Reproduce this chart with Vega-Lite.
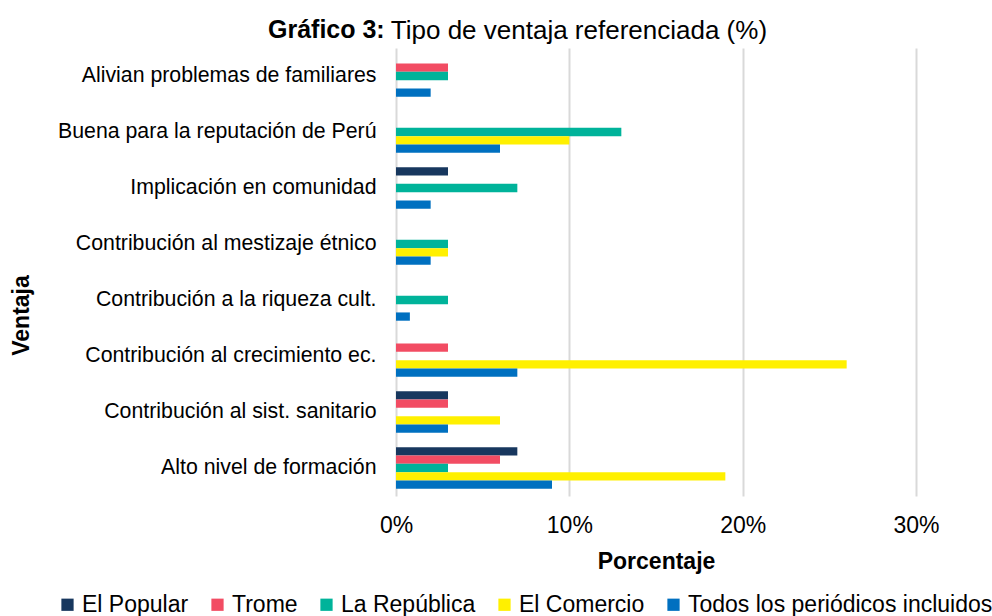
{
  "$schema": "https://vega.github.io/schema/vega-lite/v6.json",
  "width": 520,
  "height": 448,
  "autosize": {"type": "none"},
  "padding": {"left": 396, "top": 48, "right": 76, "bottom": 120},
  "background": "white",
  "title": {
    "text": "Gráfico 3:",
    "subtitle": "\u200d\u00a0\u00a0\u00a0\u00a0\u00a0\u00a0\u00a0\u00a0\u00a0\u00a0\u00a0\u00a0\u00a0\u00a0\u00a0\u00a0\u00a0Tipo de ventaja referenciada (%)",
    "anchor": "start",
    "frame": "group",
    "dx": -128,
    "offset": 4,
    "font": "Liberation Sans",
    "subtitleFont": "Liberation Sans",
    "fontSize": 25,
    "subtitleFontSize": 26,
    "fontWeight": "bold",
    "subtitleFontWeight": "normal",
    "color": "black",
    "subtitleColor": "black",
    "subtitlePadding": -25
  },
  "data": {
    "values": [
      {"ventaja": "Alivian problemas de familiares", "periodico": "Trome", "pct": 3},
      {"ventaja": "Alivian problemas de familiares", "periodico": "La República", "pct": 3},
      {"ventaja": "Alivian problemas de familiares", "periodico": "Todos los periódicos incluidos", "pct": 2},
      {"ventaja": "Buena para la reputación de Perú", "periodico": "La República", "pct": 13},
      {"ventaja": "Buena para la reputación de Perú", "periodico": "El Comercio", "pct": 10},
      {"ventaja": "Buena para la reputación de Perú", "periodico": "Todos los periódicos incluidos", "pct": 6},
      {"ventaja": "Implicación en comunidad", "periodico": "El Popular", "pct": 3},
      {"ventaja": "Implicación en comunidad", "periodico": "La República", "pct": 7},
      {"ventaja": "Implicación en comunidad", "periodico": "Todos los periódicos incluidos", "pct": 2},
      {"ventaja": "Contribución al mestizaje étnico", "periodico": "La República", "pct": 3},
      {"ventaja": "Contribución al mestizaje étnico", "periodico": "El Comercio", "pct": 3},
      {"ventaja": "Contribución al mestizaje étnico", "periodico": "Todos los periódicos incluidos", "pct": 2},
      {"ventaja": "Contribución a la riqueza cult.", "periodico": "La República", "pct": 3},
      {"ventaja": "Contribución a la riqueza cult.", "periodico": "Todos los periódicos incluidos", "pct": 0.8},
      {"ventaja": "Contribución al crecimiento ec.", "periodico": "Trome", "pct": 3},
      {"ventaja": "Contribución al crecimiento ec.", "periodico": "El Comercio", "pct": 26},
      {"ventaja": "Contribución al crecimiento ec.", "periodico": "Todos los periódicos incluidos", "pct": 7},
      {"ventaja": "Contribución al sist. sanitario", "periodico": "El Popular", "pct": 3},
      {"ventaja": "Contribución al sist. sanitario", "periodico": "Trome", "pct": 3},
      {"ventaja": "Contribución al sist. sanitario", "periodico": "El Comercio", "pct": 6},
      {"ventaja": "Contribución al sist. sanitario", "periodico": "Todos los periódicos incluidos", "pct": 3},
      {"ventaja": "Alto nivel de formación", "periodico": "El Popular", "pct": 7},
      {"ventaja": "Alto nivel de formación", "periodico": "Trome", "pct": 6},
      {"ventaja": "Alto nivel de formación", "periodico": "La República", "pct": 3},
      {"ventaja": "Alto nivel de formación", "periodico": "El Comercio", "pct": 19},
      {"ventaja": "Alto nivel de formación", "periodico": "Todos los periódicos incluidos", "pct": 9}
    ]
  },
  "mark": {"type": "bar"},
  "encoding": {
    "y": {
      "field": "ventaja",
      "type": "nominal",
      "sort": ["Alivian problemas de familiares", "Buena para la reputación de Perú", "Implicación en comunidad", "Contribución al mestizaje étnico", "Contribución a la riqueza cult.", "Contribución al crecimiento ec.", "Contribución al sist. sanitario", "Alto nivel de formación"],
      "scale": {"paddingInner": 0.26, "paddingOuter": 0.13},
      "title": "Ventaja",
      "axis": {
        "domain": false,
        "ticks": false,
        "grid": false,
        "labelFont": "Liberation Sans",
        "labelFontSize": 21.3,
        "labelColor": "black",
        "labelPadding": 20,
        "labelLimit": 400,
        "titleFont": "Liberation Sans",
        "titleFontSize": 23,
        "titleFontWeight": "bold",
        "titleColor": "black",
        "titleAngle": -90,
        "titleX": -375,
        "titleY": 267,
        "titleAlign": "center",
        "titleBaseline": "middle"
      }
    },
    "yOffset": {
      "field": "periodico",
      "type": "nominal",
      "scale": {"domain": ["El Popular", "Trome", "La República", "El Comercio", "Todos los periódicos incluidos"], "paddingInner": 0, "paddingOuter": 0}
    },
    "x": {
      "field": "pct",
      "type": "quantitative",
      "scale": {"domain": [0, 30], "nice": false},
      "title": "Porcentaje",
      "axis": {
        "values": [0, 10, 20, 30],
        "labelExpr": "datum.value + '%'",
        "labelFlush": false,
        "domain": false,
        "ticks": false,
        "grid": true,
        "gridColor": "#D9D9D9",
        "gridWidth": 2,
        "labelFont": "Liberation Sans",
        "labelFontSize": 23,
        "labelColor": "black",
        "labelPadding": 18,
        "titleFont": "Liberation Sans",
        "titleFontSize": 23,
        "titleFontWeight": "bold",
        "titleColor": "black",
        "titlePadding": 13
      }
    },
    "color": {
      "field": "periodico",
      "type": "nominal",
      "scale": {
        "domain": ["El Popular", "Trome", "La República", "El Comercio", "Todos los periódicos incluidos"],
        "range": ["#17375E", "#F24C63", "#00B39A", "#FFF000", "#0070C0"]
      },
      "legend": {
        "orient": "none",
        "legendX": -340,
        "legendY": 545,
        "direction": "horizontal",
        "title": null,
        "symbolType": "square",
        "symbolSize": 150,
        "symbolStrokeWidth": 0,
        "labelFont": "Liberation Sans",
        "labelFontSize": 23,
        "labelColor": "black",
        "labelOffset": 3,
        "columnPadding": 17,
        "labelLimit": 400
      }
    }
  },
  "config": {
    "view": {"stroke": null},
    "font": "Liberation Sans"
  }
}
